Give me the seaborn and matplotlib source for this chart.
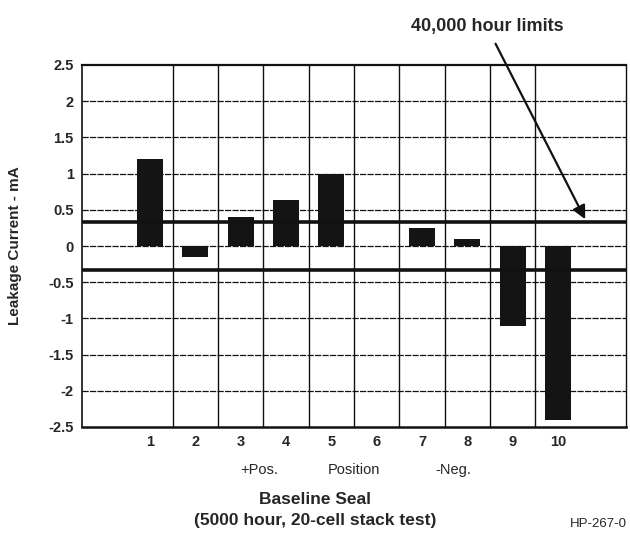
import matplotlib
matplotlib.use("Agg")
import matplotlib.pyplot as plt
import seaborn as sns
import numpy as np
import pandas as pd

categories = ["1", "2", "3", "4", "5", "6", "7", "8", "9", "10"]
leakage_ma = [1.2, -0.15, 0.4, 0.63, 1.0, 0.0, 0.25, 0.1, -1.1, -2.4]
limit_upper = 0.33
limit_lower = -0.33
yticks = [2.5, 2, 1.5, 1, 0.5, 0, -0.5, -1, -1.5, -2, -2.5]
ytick_labels = ["2.5", "2", "1.5", "1", "0.5", "0", "-0.5", "-1", "-1.5", "-2", "-2.5"]
group_labels = ["+Pos.", "Position", "-Neg."]
group_pos = [2.4, 4.5, 6.7]

sns.set_style("white")
plt.rcParams['font.family'] = ['Liberation Sans', 'DejaVu Sans']

fig = plt.figure(figsize=(6.3, 5.35), dpi=100)
ax = fig.add_axes([82/630, 1-427/535, (626-82)/630, (427-65)/535])

df = pd.DataFrame({"cell": categories, "val": leakage_ma})
sns.barplot(data=df, x="cell", y="val", color="#141414", width=0.58,
            saturation=1, ax=ax, zorder=3, linewidth=0)

ax.set_xlim(-1.5, 10.5)
ax.set_ylim(-2.5, 2.5)
ax.set_yticks(yticks)
ax.set_yticklabels(ytick_labels, fontsize=10.5, fontweight="bold")
ax.set_xticks(range(len(categories)))
ax.set_xticklabels(categories, fontsize=10.5, fontweight="bold")
ax.tick_params(axis="x", which="major", length=0, pad=6)
ax.set_xticks(np.arange(0.5, 9, 1.0), minor=True)
ax.tick_params(axis="x", which="minor", length=5, width=1, direction="out", color="#111")
ax.tick_params(axis="y", which="major", length=4, width=1, direction="out", color="#111", pad=2)

# grid
for y in yticks[1:-1]:
    ax.axhline(y, color="#111", lw=0.9, ls=(0, (5, 1)), zorder=1)
for x in np.arange(0.5, 9, 1.0):
    ax.axvline(x, color="#111", lw=1.0, zorder=1)

# limit lines
ax.axhline(limit_upper, color="#111", lw=2.6, zorder=4)
ax.axhline(limit_lower, color="#111", lw=2.6, zorder=4)

for s in ax.spines.values():
    s.set_visible(True)
    s.set_color("#111")
ax.spines["top"].set_linewidth(1.6)
ax.spines["bottom"].set_linewidth(1.8)
ax.spines["left"].set_linewidth(1.2)
ax.spines["right"].set_linewidth(1.0)

ax.set_xlabel("")
ax.set_ylabel("Leakage Current - mA", fontsize=11, fontweight="bold", labelpad=19)

for lab, p in zip(group_labels, group_pos):
    ax.text(p, -0.12, lab, transform=ax.get_xaxis_transform(), ha="center",
            va="center", fontsize=10.5)

ax.annotate("40,000 hour limits", xy=(9.6, limit_upper + 0.04), xycoords="data",
            xytext=(487/630, 1-27/535), textcoords="figure fraction",
            ha="center", va="center", fontsize=13, fontweight="bold",
            arrowprops=dict(arrowstyle="-|>", color="#111", lw=1.6,
                            mutation_scale=20, shrinkA=4, shrinkB=0))

fig.text(315/630, 1-499/535, "Baseline Seal", ha="center", va="center",
         fontsize=12.5, fontweight="bold")
fig.text(315/630, 1-521/535, "(5000 hour, 20-cell stack test)", ha="center",
         va="center", fontsize=12.5, fontweight="bold")
fig.text(598/630, 1-524/535, "HP-267-0", ha="center", va="center", fontsize=9.5)

fig.savefig("out.png", dpi=100)
